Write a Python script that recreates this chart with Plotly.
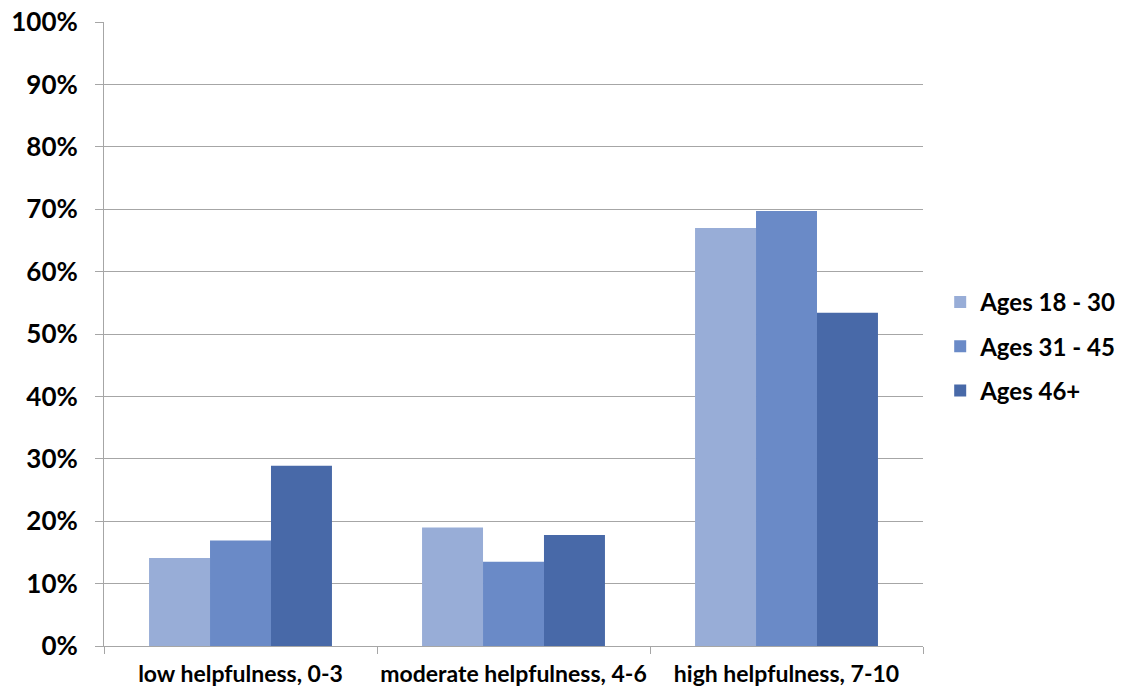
import plotly.graph_objects as go

categories = ["low helpfulness, 0-3", "moderate helpfulness, 4-6", "high helpfulness, 7-10"]
series_names = ["Ages 18 - 30", "Ages 31 - 45", "Ages 46+"]
ages_18_30 = [14.1, 19.0, 67.0]
ages_31_45 = [16.9, 13.5, 69.7]
ages_46_plus = [28.9, 17.8, 53.4]
y_tick_values = [0, 10, 20, 30, 40, 50, 60, 70, 80, 90, 100]
y_tick_labels = ["0%", "10%", "20%", "30%", "40%", "50%", "60%", "70%", "80%", "90%", "100%"]

colors = ["#98ADD7", "#6A8AC7", "#4869A8"]
series_values = [ages_18_30, ages_31_45, ages_46_plus]

fig = go.Figure()
for name, vals, col in zip(series_names, series_values, colors):
    fig.add_trace(go.Bar(
        x=categories, y=vals, name=name, legendgroup=name,
        marker=dict(color=col, line=dict(width=0)),
    ))

font_family = "Lato, 'Open Sans', sans-serif"

fig.update_layout(
    width=1144, height=690,
    margin=dict(l=104, r=221, t=22, b=44),
    paper_bgcolor="white", plot_bgcolor="white",
    barmode="group", bargap=0.33, bargroupgap=0,
    font=dict(family=font_family, color="#000000"),
    legend=dict(
        x=1.021, y=0.48, xanchor="left", yanchor="middle",
        font=dict(size=24, family=font_family, weight="bold"),
        tracegroupgap=10, itemwidth=30, traceorder="grouped",
    ),
    showlegend=True,
)

fig.update_yaxes(
    range=[0, 100],
    tickvals=y_tick_values, ticktext=y_tick_labels,
    tickfont=dict(size=26, family=font_family, weight="bold"),
    showgrid=True, gridcolor="#A6A6A6", gridwidth=1,
    showline=True, linecolor="#A6A6A6", linewidth=1,
    ticks="outside", ticklen=8, tickcolor="#A6A6A6",
    zeroline=False,
    ticklabelstandoff=12,
    automargin=False,
)

fig.update_xaxes(
    tickfont=dict(size=23, family=font_family, weight="bold"),
    tickangle=0,
    showline=True, linecolor="#A6A6A6", linewidth=1,
    ticks="outside", ticklen=7, tickcolor="#A6A6A6",
    tickson="boundaries",
    showgrid=False,
    ticklabelstandoff=7,
    automargin=False,
)

fig.write_html("out.html")
